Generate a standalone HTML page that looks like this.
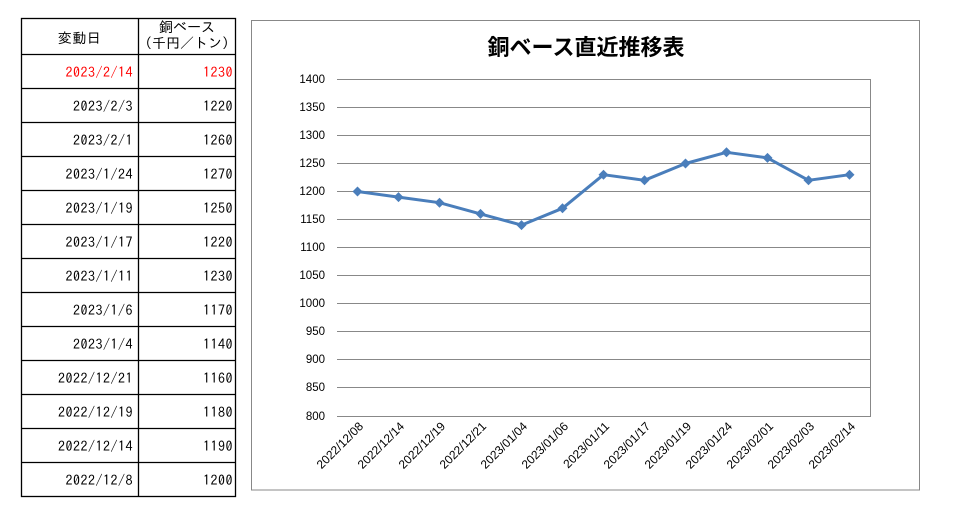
<!DOCTYPE html>
<html><head><meta charset="utf-8"><style>
body{margin:0;width:956px;height:515px;background:#fff;position:relative;overflow:hidden;font-family:"Liberation Sans","IPAGothic",sans-serif}
.t{position:absolute;font-family:"IPAGothic","Noto Sans CJK JP",sans-serif;font-size:14px;line-height:16px;white-space:nowrap;letter-spacing:0.5px}
.d{right:823px;text-align:right}
.v{right:723px;text-align:right}
.r{color:#f00}
</style></head><body>
<svg width="956" height="515" style="position:absolute;left:0;top:0" font-family="Liberation Sans, sans-serif">
<g stroke="#000" stroke-width="1.3">
<rect x="21.5" y="18.5" width="214" height="478" fill="none"/>
<line x1="138.5" x2="138.5" y1="18" y2="497"/>
<line x1="21" x2="236" y1="54.5" y2="54.5"/>
<line x1="21" x2="236" y1="88.5" y2="88.5"/>
<line x1="21" x2="236" y1="122.5" y2="122.5"/>
<line x1="21" x2="236" y1="156.5" y2="156.5"/>
<line x1="21" x2="236" y1="190.5" y2="190.5"/>
<line x1="21" x2="236" y1="224.5" y2="224.5"/>
<line x1="21" x2="236" y1="258.5" y2="258.5"/>
<line x1="21" x2="236" y1="292.5" y2="292.5"/>
<line x1="21" x2="236" y1="326.5" y2="326.5"/>
<line x1="21" x2="236" y1="360.5" y2="360.5"/>
<line x1="21" x2="236" y1="394.5" y2="394.5"/>
<line x1="21" x2="236" y1="428.5" y2="428.5"/>
<line x1="21" x2="236" y1="462.5" y2="462.5"/>
</g>
<rect x="251.5" y="20.5" width="668" height="469.5" fill="none" stroke="#888" stroke-width="1"/>
<text x="586" y="55" text-anchor="middle" font-size="22" font-weight="bold" font-family="Noto Sans CJK JP, sans-serif">銅ベース直近推移表</text>
<g stroke="#888" stroke-width="1">
<line x1="337" x2="870" y1="79.5" y2="79.5"/><line x1="337" x2="870" y1="107.5" y2="107.5"/><line x1="337" x2="870" y1="135.5" y2="135.5"/><line x1="337" x2="870" y1="163.5" y2="163.5"/><line x1="337" x2="870" y1="191.5" y2="191.5"/><line x1="337" x2="870" y1="219.5" y2="219.5"/><line x1="337" x2="870" y1="247.5" y2="247.5"/><line x1="337" x2="870" y1="275.5" y2="275.5"/><line x1="337" x2="870" y1="303.5" y2="303.5"/><line x1="337" x2="870" y1="331.5" y2="331.5"/><line x1="337" x2="870" y1="359.5" y2="359.5"/><line x1="337" x2="870" y1="387.5" y2="387.5"/><line x1="337" x2="870" y1="416.5" y2="416.5"/>
<line x1="870.5" x2="870.5" y1="79" y2="417"/>
</g>
<g font-size="11.5" text-anchor="end" fill="#000">
<text x="325" y="83">1400</text><text x="325" y="111">1350</text><text x="325" y="139">1300</text><text x="325" y="167">1250</text><text x="325" y="195">1200</text><text x="325" y="223">1150</text><text x="325" y="251">1100</text><text x="325" y="279">1050</text><text x="325" y="307">1000</text><text x="325" y="335">950</text><text x="325" y="363">900</text><text x="325" y="391">850</text><text x="325" y="420">800</text>
</g>
<g font-size="12" text-anchor="end">
<text transform="translate(364,427) rotate(-45)">2022/12/08</text>
<text transform="translate(405,427) rotate(-45)">2022/12/14</text>
<text transform="translate(446,427) rotate(-45)">2022/12/19</text>
<text transform="translate(487,427) rotate(-45)">2022/12/21</text>
<text transform="translate(528,427) rotate(-45)">2023/01/04</text>
<text transform="translate(569,427) rotate(-45)">2023/01/06</text>
<text transform="translate(610,427) rotate(-45)">2023/01/11</text>
<text transform="translate(651,427) rotate(-45)">2023/01/17</text>
<text transform="translate(692,427) rotate(-45)">2023/01/19</text>
<text transform="translate(733,427) rotate(-45)">2023/01/24</text>
<text transform="translate(774,427) rotate(-45)">2023/02/01</text>
<text transform="translate(815,427) rotate(-45)">2023/02/03</text>
<text transform="translate(856,427) rotate(-45)">2023/02/14</text>
</g>
<polyline fill="none" stroke="#4a7ebb" stroke-width="3" stroke-linejoin="round" points="357.5,191.5 398.5,197.1 439.5,202.7 480.5,213.9 521.5,225.1 562.5,208.3 603.5,174.7 644.5,180.3 685.5,163.5 726.5,152.3 767.5,157.9 808.5,180.3 849.5,174.7"/>
<g fill="#4a7ebb">
<path d="M357.5 186.5l5 5-5 5-5-5z"/><path d="M398.5 192.1l5 5-5 5-5-5z"/><path d="M439.5 197.7l5 5-5 5-5-5z"/><path d="M480.5 208.9l5 5-5 5-5-5z"/><path d="M521.5 220.1l5 5-5 5-5-5z"/><path d="M562.5 203.3l5 5-5 5-5-5z"/><path d="M603.5 169.7l5 5-5 5-5-5z"/><path d="M644.5 175.3l5 5-5 5-5-5z"/><path d="M685.5 158.5l5 5-5 5-5-5z"/><path d="M726.5 147.3l5 5-5 5-5-5z"/><path d="M767.5 152.9l5 5-5 5-5-5z"/><path d="M808.5 175.3l5 5-5 5-5-5z"/><path d="M849.5 169.7l5 5-5 5-5-5z"/>
</g>
</svg>
<div class="t" style="left:21px;width:117px;top:30px;text-align:center">変動日</div>
<div class="t" style="left:138px;width:98px;top:19px;text-align:center;letter-spacing:0">銅ベース<br>（千円／トン）</div>
<div class="t d r" style="top:64px">2023/2/14</div><div class="t v r" style="top:64px">1230</div>
<div class="t d" style="top:98px">2023/2/3</div><div class="t v" style="top:98px">1220</div>
<div class="t d" style="top:132px">2023/2/1</div><div class="t v" style="top:132px">1260</div>
<div class="t d" style="top:166px">2023/1/24</div><div class="t v" style="top:166px">1270</div>
<div class="t d" style="top:200px">2023/1/19</div><div class="t v" style="top:200px">1250</div>
<div class="t d" style="top:234px">2023/1/17</div><div class="t v" style="top:234px">1220</div>
<div class="t d" style="top:268px">2023/1/11</div><div class="t v" style="top:268px">1230</div>
<div class="t d" style="top:302px">2023/1/6</div><div class="t v" style="top:302px">1170</div>
<div class="t d" style="top:336px">2023/1/4</div><div class="t v" style="top:336px">1140</div>
<div class="t d" style="top:370px">2022/12/21</div><div class="t v" style="top:370px">1160</div>
<div class="t d" style="top:404px">2022/12/19</div><div class="t v" style="top:404px">1180</div>
<div class="t d" style="top:438px">2022/12/14</div><div class="t v" style="top:438px">1190</div>
<div class="t d" style="top:472px">2022/12/8</div><div class="t v" style="top:472px">1200</div>
</body></html>
